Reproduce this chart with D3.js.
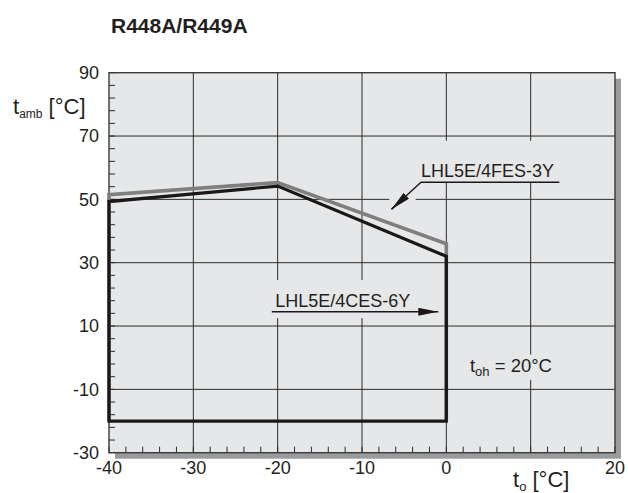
<!DOCTYPE html>
<html>
<head>
<meta charset="utf-8">
<script src="https://cdn.jsdelivr.net/npm/d3@7/dist/d3.min.js"></script>
<style>
  body { margin: 0; background: #fff; }
  text { font-family: "Liberation Sans", Arial, sans-serif; fill: #231f20; }
</style>
</head>
<body>
<div id="chart"></div>
<script>
// envelope corners, [t_o, t_amb]
var envelope3Y = [[-40, -20], [-40, 51.5], [-20, 55.3], [0, 36], [0, -20]];
var envelope6Y = [[-40, -20], [-40, 49.3], [-20, 54.2], [0, 32], [0, -20], [-40, -20]];

var xMajor = [-40, -30, -20, -10, 0, 10, 20];
var xLabels = [-40, -30, -20, -10, 0, 20];   // 10 is left out, the axis title sits there
var yMajor = [-30, -10, 10, 30, 50, 70, 90];
var xMinor = d3.range(-40, 20.1, 2);
var yMinor = d3.range(-30, 90.1, 4);

var width = 628, height = 493;
var margin = {top: 72.7, right: 13, bottom: 40.3, left: 109};
var bg = "#e6e7e8";

var svg = d3.select("#chart").append("svg")
    .attr("width", width)
    .attr("height", height);

var x = d3.scaleLinear().domain([-40, 20]).range([margin.left, width - margin.right]);
var y = d3.scaleLinear().domain([-30, 90]).range([height - margin.bottom, margin.top]);

// shadow
svg.append("rect")
    .attr("x", x(-40) + 6).attr("y", y(90) + 6)
    .attr("width", x(20) - x(-40)).attr("height", y(-30) - y(90))
    .style("fill", "#9a9b9d");

svg.append("rect")
    .attr("x", x(-40)).attr("y", y(90))
    .attr("width", x(20) - x(-40)).attr("height", y(-30) - y(90))
    .style("fill", bg);

// grid
var grid = svg.append("g").attr("stroke", "#2b2b2b").attr("stroke-width", 1);
grid.selectAll(".gx").data(xMajor.slice(1, -1)).enter().append("line")
    .attr("x1", d => x(d)).attr("x2", d => x(d))
    .attr("y1", y(90)).attr("y2", y(-30));
grid.selectAll(".gy").data(yMajor.slice(1, -1)).enter().append("line")
    .attr("y1", d => y(d)).attr("y2", d => y(d))
    .attr("x1", x(-40)).attr("x2", x(20));

// minor ticks, inside
var ticks = svg.append("g").attr("stroke", "#2b2b2b").attr("stroke-width", 1);
ticks.selectAll(".tx").data(xMinor).enter().append("line")
    .attr("x1", d => x(d)).attr("x2", d => x(d))
    .attr("y1", y(-30)).attr("y2", y(-30) - 6);
ticks.selectAll(".ty").data(yMinor).enter().append("line")
    .attr("y1", d => y(d)).attr("y2", d => y(d))
    .attr("x1", x(-40)).attr("x2", x(-40) + 6);

// label backgrounds (break the grid lines)
var halo = svg.append("g");
halo.append("rect")
    .attr("x", x(-3.7)).attr("y", y(68.5))
    .attr("width", x(13.7) - x(-3.7)).attr("height", y(55.5) - y(68.5))
    .style("fill", bg);
halo.append("line")
    .attr("x1", x(-3)).attr("y1", y(55.4)).attr("x2", x(-6.2)).attr("y2", y(47.5))
    .attr("stroke", bg).attr("stroke-width", 18);
halo.append("rect")
    .attr("x", x(-20.9)).attr("y", y(24.5))
    .attr("width", x(-4.5) - x(-20.9)).attr("height", y(12.5) - y(24.5))
    .style("fill", bg);
halo.append("rect")
    .attr("x", x(2.5)).attr("y", y(1))
    .attr("width", x(13.5) - x(2.5)).attr("height", y(-7) - y(1))
    .style("fill", bg);

// frame
svg.append("rect")
    .attr("x", x(-40)).attr("y", y(90))
    .attr("width", x(20) - x(-40)).attr("height", y(-30) - y(90))
    .style("fill", "none").style("stroke", "#3a3a3a").style("stroke-width", 1.4);

// envelopes
var line = d3.line().x(d => x(d[0])).y(d => y(d[1]));
svg.append("path").datum(envelope3Y)
    .attr("d", line)
    .style("fill", "none").style("stroke", "#7f7f80").style("stroke-width", 3.6)
    .style("stroke-linejoin", "miter");
svg.append("path")
    .attr("d", line(envelope6Y) + "Z")
    .style("fill", "none").style("stroke", "#1b1718").style("stroke-width", 3.2)
    .style("stroke-linejoin", "miter");

// arrow marker
svg.append("defs").append("marker")
    .attr("id", "arrow")
    .attr("viewBox", "0 0 20 8")
    .attr("refX", 20).attr("refY", 4)
    .attr("markerWidth", 20).attr("markerHeight", 8)
    .attr("markerUnits", "userSpaceOnUse")
    .attr("orient", "auto")
  .append("path").attr("d", "M0,0L20,4L0,8Z").style("fill", "#1b1718");

// 3Y label
svg.append("text")
    .attr("x", x(-3)).attr("y", y(57.1))
    .style("font-size", "18px")
    .text("LHL5E/4FES-3Y");
svg.append("path")
    .attr("d", "M" + x(13.4) + "," + y(55.4) + "L" + x(-3) + "," + y(55.4) + "L" + x(-6.5) + "," + y(46.9))
    .style("fill", "none").style("stroke", "#1b1718").style("stroke-width", 1.4);
svg.append("path")
    .attr("d", "M" + x(-5.3) + "," + y(49.8) + "L" + x(-6.5) + "," + y(46.9))
    .style("fill", "none").style("stroke", "#1b1718").style("stroke-width", 1.4)
    .attr("marker-end", "url(#arrow)");

// 6Y label
svg.append("text")
    .attr("x", x(-20.3)).attr("y", y(16.1))
    .style("font-size", "18px")
    .text("LHL5E/4CES-6Y");
svg.append("line")
    .attr("x1", x(-20.7)).attr("y1", y(14.5))
    .attr("x2", x(-0.95)).attr("y2", y(14.5))
    .style("stroke", "#1b1718").style("stroke-width", 1.4)
    .attr("marker-end", "url(#arrow)");

// t_oh
var toh = svg.append("text")
    .attr("x", x(2.8)).attr("y", y(-4.4))
    .style("font-size", "18.5px");
toh.append("tspan").text("t");
toh.append("tspan").attr("dy", 4).style("font-size", "13px").text("oh");
toh.append("tspan").attr("dy", -4).text(" = 20°C");

// tick labels
svg.selectAll(".yl").data(yMajor).enter().append("text")
    .attr("x", x(-40) - 10).attr("y", d => y(d))
    .attr("dy", "0.35em")
    .attr("text-anchor", "end")
    .style("font-size", "18px")
    .text(d => d);
svg.selectAll(".xl").data(xLabels).enter().append("text")
    .attr("x", d => x(d)).attr("y", y(-30) + 15)
    .attr("dy", "0.35em")
    .attr("text-anchor", "middle")
    .style("font-size", "18px")
    .text(d => d);

// axis titles
var ya = svg.append("text").attr("x", 13).attr("y", 114).style("font-size", "22px");
ya.append("tspan").text("t");
ya.append("tspan").attr("dy", 4).style("font-size", "12px").text("amb");
ya.append("tspan").attr("dy", -4).text(" [°C]");

var xa = svg.append("text").attr("x", 513).attr("y", 487).style("font-size", "22px");
xa.append("tspan").text("t");
xa.append("tspan").attr("dy", 4).style("font-size", "13px").text("o");
xa.append("tspan").attr("dy", -4).text(" [°C]");

svg.append("text")
    .attr("x", 111).attr("y", 33)
    .style("font-size", "21px").style("font-weight", "bold")
    .text("R448A/R449A");
</script>
</body>
</html>
